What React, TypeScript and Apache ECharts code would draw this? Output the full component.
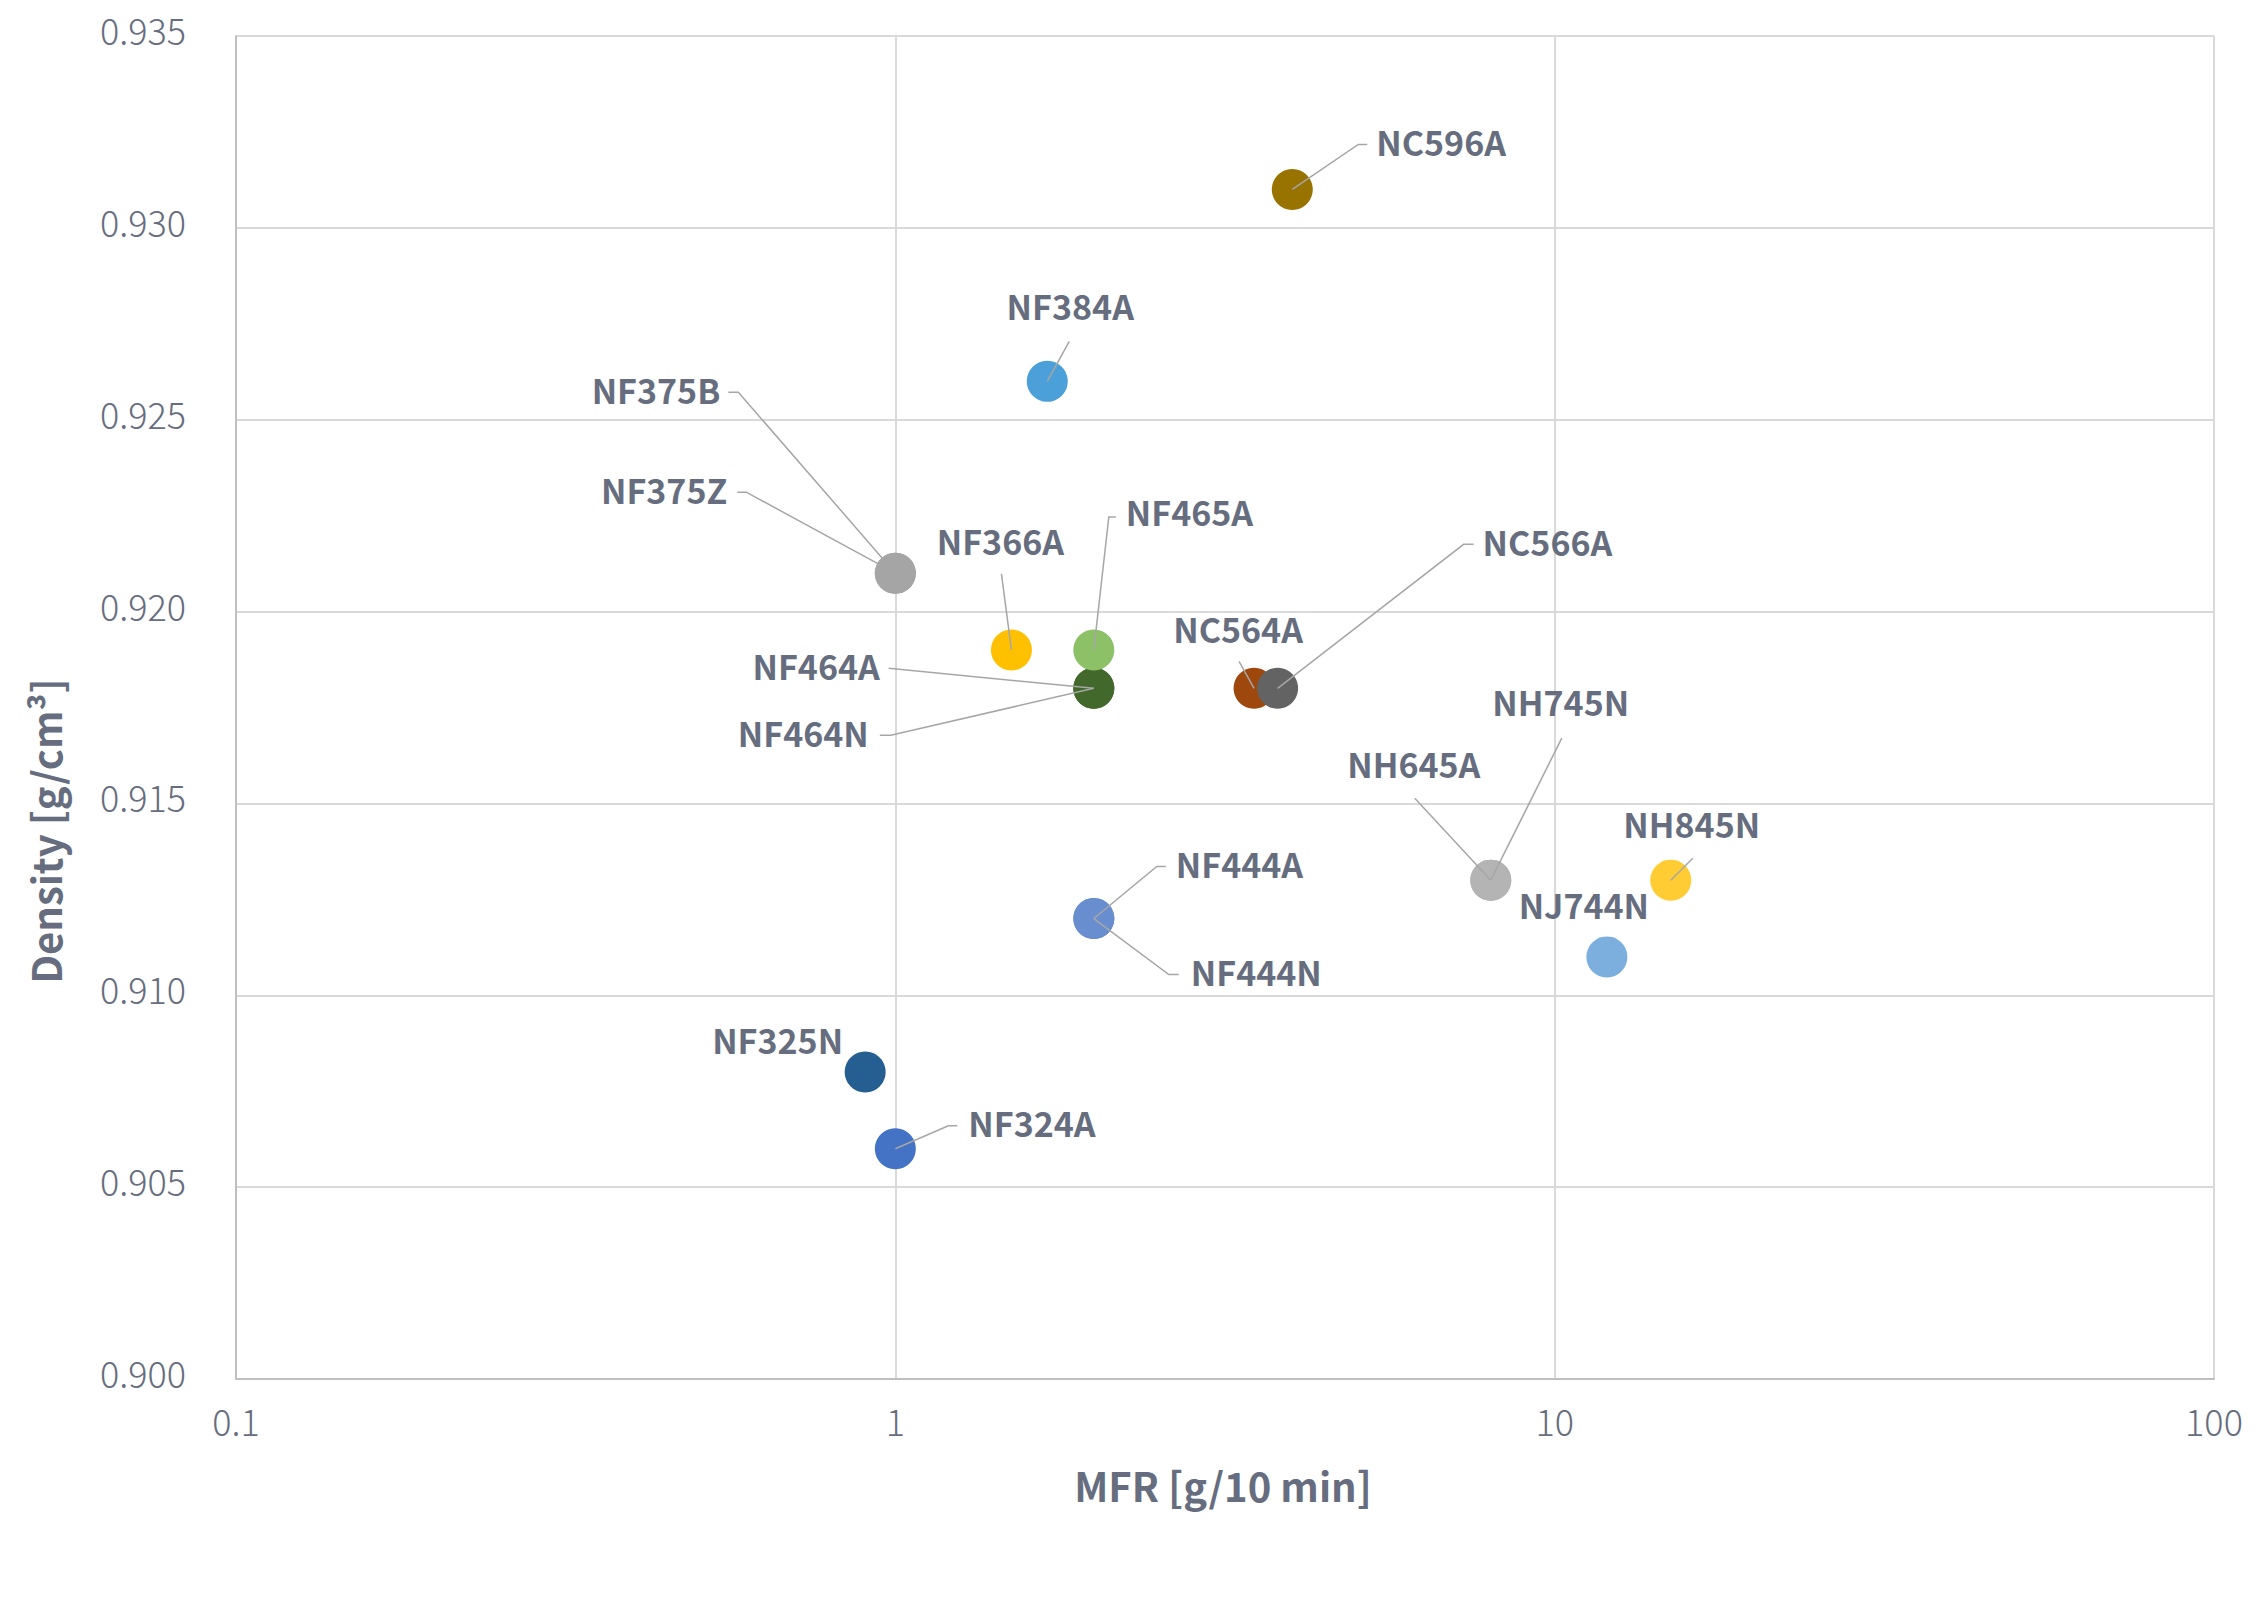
import React, { useEffect, useRef } from "react";
import * as echarts from "echarts";

// ---- data ----
const names = [
  "NF324A", "NF325N", "NF375B", "NF375Z", "NF366A", "NF384A",
  "NF464A", "NF464N", "NF444A", "NF444N", "NF465A",
  "NC564A", "NC566A", "NC596A", "NH645A", "NH745N", "NJ744N", "NH845N",
];
const mfr = [1.0, 0.9, 1.0, 1.0, 1.5, 1.7, 2.0, 2.0, 2.0, 2.0, 2.0, 3.5, 3.8, 4.0, 8, 8, 12, 15];
const density = [
  0.906, 0.908, 0.921, 0.921, 0.919, 0.926, 0.918, 0.918, 0.912, 0.912, 0.919,
  0.918, 0.918, 0.931, 0.913, 0.913, 0.911, 0.913,
];
const colors = [
  "#4472C4", "#255E91", "#A5A5A5", "#A5A5A5", "#FFC000", "#4BA0D9",
  "#43682B", "#43682B", "#698ED0", "#698ED0", "#8CC168",
  "#9E480E", "#636363", "#997300", "#B4B4B4", "#B4B4B4", "#7CAFDD", "#FFCD33",
];
const xTicks = [0.1, 1, 10, 100];
const xTitle = "MFR [g/10 min]";
const yTitle = "Density [g/cm³]";

// ---- label layout (pixel offsets from each point, styling only) ----
type Lay = { dx: number; dy: number; align: string; line: number[][] };
const labelLayout: Lay[] = [
  { dx: 73, dy: -23, align: "left", line: [[53, -23], [62, -23]] },
  { dx: -22, dy: -30, align: "right", line: [] },
  { dx: -175, dy: -181, align: "right", line: [[-157, -181], [-167, -181]] },
  { dx: -168, dy: -81, align: "right", line: [[-149, -81], [-158, -81]] },
  { dx: -11, dy: -106, align: "center", line: [[-10, -76]] },
  { dx: 23, dy: -73, align: "center", line: [[22, -40]] },
  { dx: -214, dy: -20, align: "right", line: [[-205, -20]] },
  { dx: -225, dy: 47, align: "right", line: [[-203, 47], [-214, 47]] },
  { dx: 82, dy: -52, align: "left", line: [[63, -52], [72, -52]] },
  { dx: 97, dy: 56, align: "left", line: [[75, 56], [85, 56]] },
  { dx: 32, dy: -135, align: "left", line: [[15, -133], [22, -133]] },
  { dx: -16, dy: -57, align: "center", line: [[-15, -27]] },
  { dx: 205, dy: -144, align: "left", line: [[186, -144], [196, -144]] },
  { dx: 84, dy: -45, align: "left", line: [[66, -45], [75, -45]] },
  { dx: -77, dy: -114, align: "center", line: [[-76, -82]] },
  { dx: 70, dy: -176, align: "center", line: [[71, -142]] },
  { dx: -23, dy: -49, align: "center", line: [] },
  { dx: 21, dy: -54, align: "center", line: [[22, -22]] },
];

const FONT = '"Noto Sans CJK JP", "Noto Sans", sans-serif';
const TEXT = "#666D7E";
const TEXT_SHIFT = -3;

export default function App() {
  const ref = useRef<HTMLDivElement>(null);
  useEffect(() => {
    if (!ref.current) return;
    const chart = echarts.init(ref.current, null, { renderer: "svg" });
    const option: any = {
      animation: false,
      backgroundColor: "#ffffff",
      grid: { left: 236, right: 46, top: 36, bottom: 231, containLabel: false },
      xAxis: {
        type: "log",
        logBase: 10,
        min: xTicks[0],
        max: xTicks[xTicks.length - 1],
        axisLine: { show: true, lineStyle: { color: "#BFBFBF", width: 2 } },
        axisTick: { show: false },
        axisLabel: {
          margin: 23,
          fontSize: 36,
          fontWeight: 300,
          color: TEXT,
          fontFamily: FONT,
          formatter: (v: number) => (v < 1 ? v.toFixed(1) : String(Math.round(v))),
        },
        splitLine: { show: true, lineStyle: { color: "#D9D9D9", width: 2 } },
      },
      yAxis: {
        type: "value",
        min: 0.9,
        max: 0.935,
        interval: 0.005,
        axisLine: { show: true, lineStyle: { color: "#BFBFBF", width: 2 } },
        axisTick: { show: false },
        axisLabel: {
          margin: 50,
          fontSize: 36,
          fontWeight: 300,
          color: TEXT,
          fontFamily: FONT,
          verticalAlign: "bottom",
          lineHeight: 14,
          formatter: (v: number) => v.toFixed(3),
        },
        splitLine: { show: true, lineStyle: { color: "#D9D9D9", width: 2 } },
      },
      series: [
        {
          type: "scatter",
          symbol: "circle",
          symbolSize: 41,
          z: 2,
          silent: true,
          itemStyle: { opacity: 1 },
          data: names.map((n, i) => ({
            name: n,
            value: [mfr[i], density[i]],
            itemStyle: { color: colors[i], opacity: 1 },
          })),
        },
        {
          type: "custom",
          z: 3,
          silent: true,
          clip: false,
          encode: { x: 0, y: 1 },
          data: names.map((_, i) => [mfr[i], density[i], i]),
          renderItem: (params: any, api: any) => {
            const i = api.value(2);
            const p = api.coord([api.value(0), api.value(1)]);
            const L = labelLayout[i];
            const children: any[] = [];
            if (L.line.length) {
              children.push({
                type: "polyline",
                shape: {
                  points: [p, ...L.line.map(([a, b]) => [p[0] + a, p[1] + b])],
                },
                style: { stroke: "#A6A6A6", lineWidth: 1.5, fill: "none" },
              });
            }
            children.push({
              type: "text",
              x: p[0] + L.dx,
              y: p[1] + L.dy + TEXT_SHIFT,
              style: {
                text: names[i],
                fill: TEXT,
                fontSize: 34,
                fontWeight: "bold",
                fontFamily: FONT,
                align: L.align,
                verticalAlign: "middle",
              },
            });
            return { type: "group", children };
          },
        },
      ],
      graphic: [
        {
          type: "text",
          x: 1223,
          y: 1485,
          style: {
            text: xTitle,
            fill: TEXT,
            fontSize: 40,
            fontWeight: "bold",
            fontFamily: FONT,
            align: "center",
            verticalAlign: "middle",
          },
        },
        {
          type: "text",
          x: 45,
          y: 831,
          rotation: Math.PI / 2,
          style: {
            text: yTitle,
            fill: TEXT,
            fontSize: 40,
            fontWeight: "bold",
            fontFamily: FONT,
            align: "center",
            verticalAlign: "middle",
          },
        },
      ],
    };
    chart.setOption(option);
    return () => chart.dispose();
  }, []);
  return (
    <div
      ref={ref}
      style={{ position: "absolute", left: 0, top: 0, width: 2260, height: 1610 }}
    />
  );
}
